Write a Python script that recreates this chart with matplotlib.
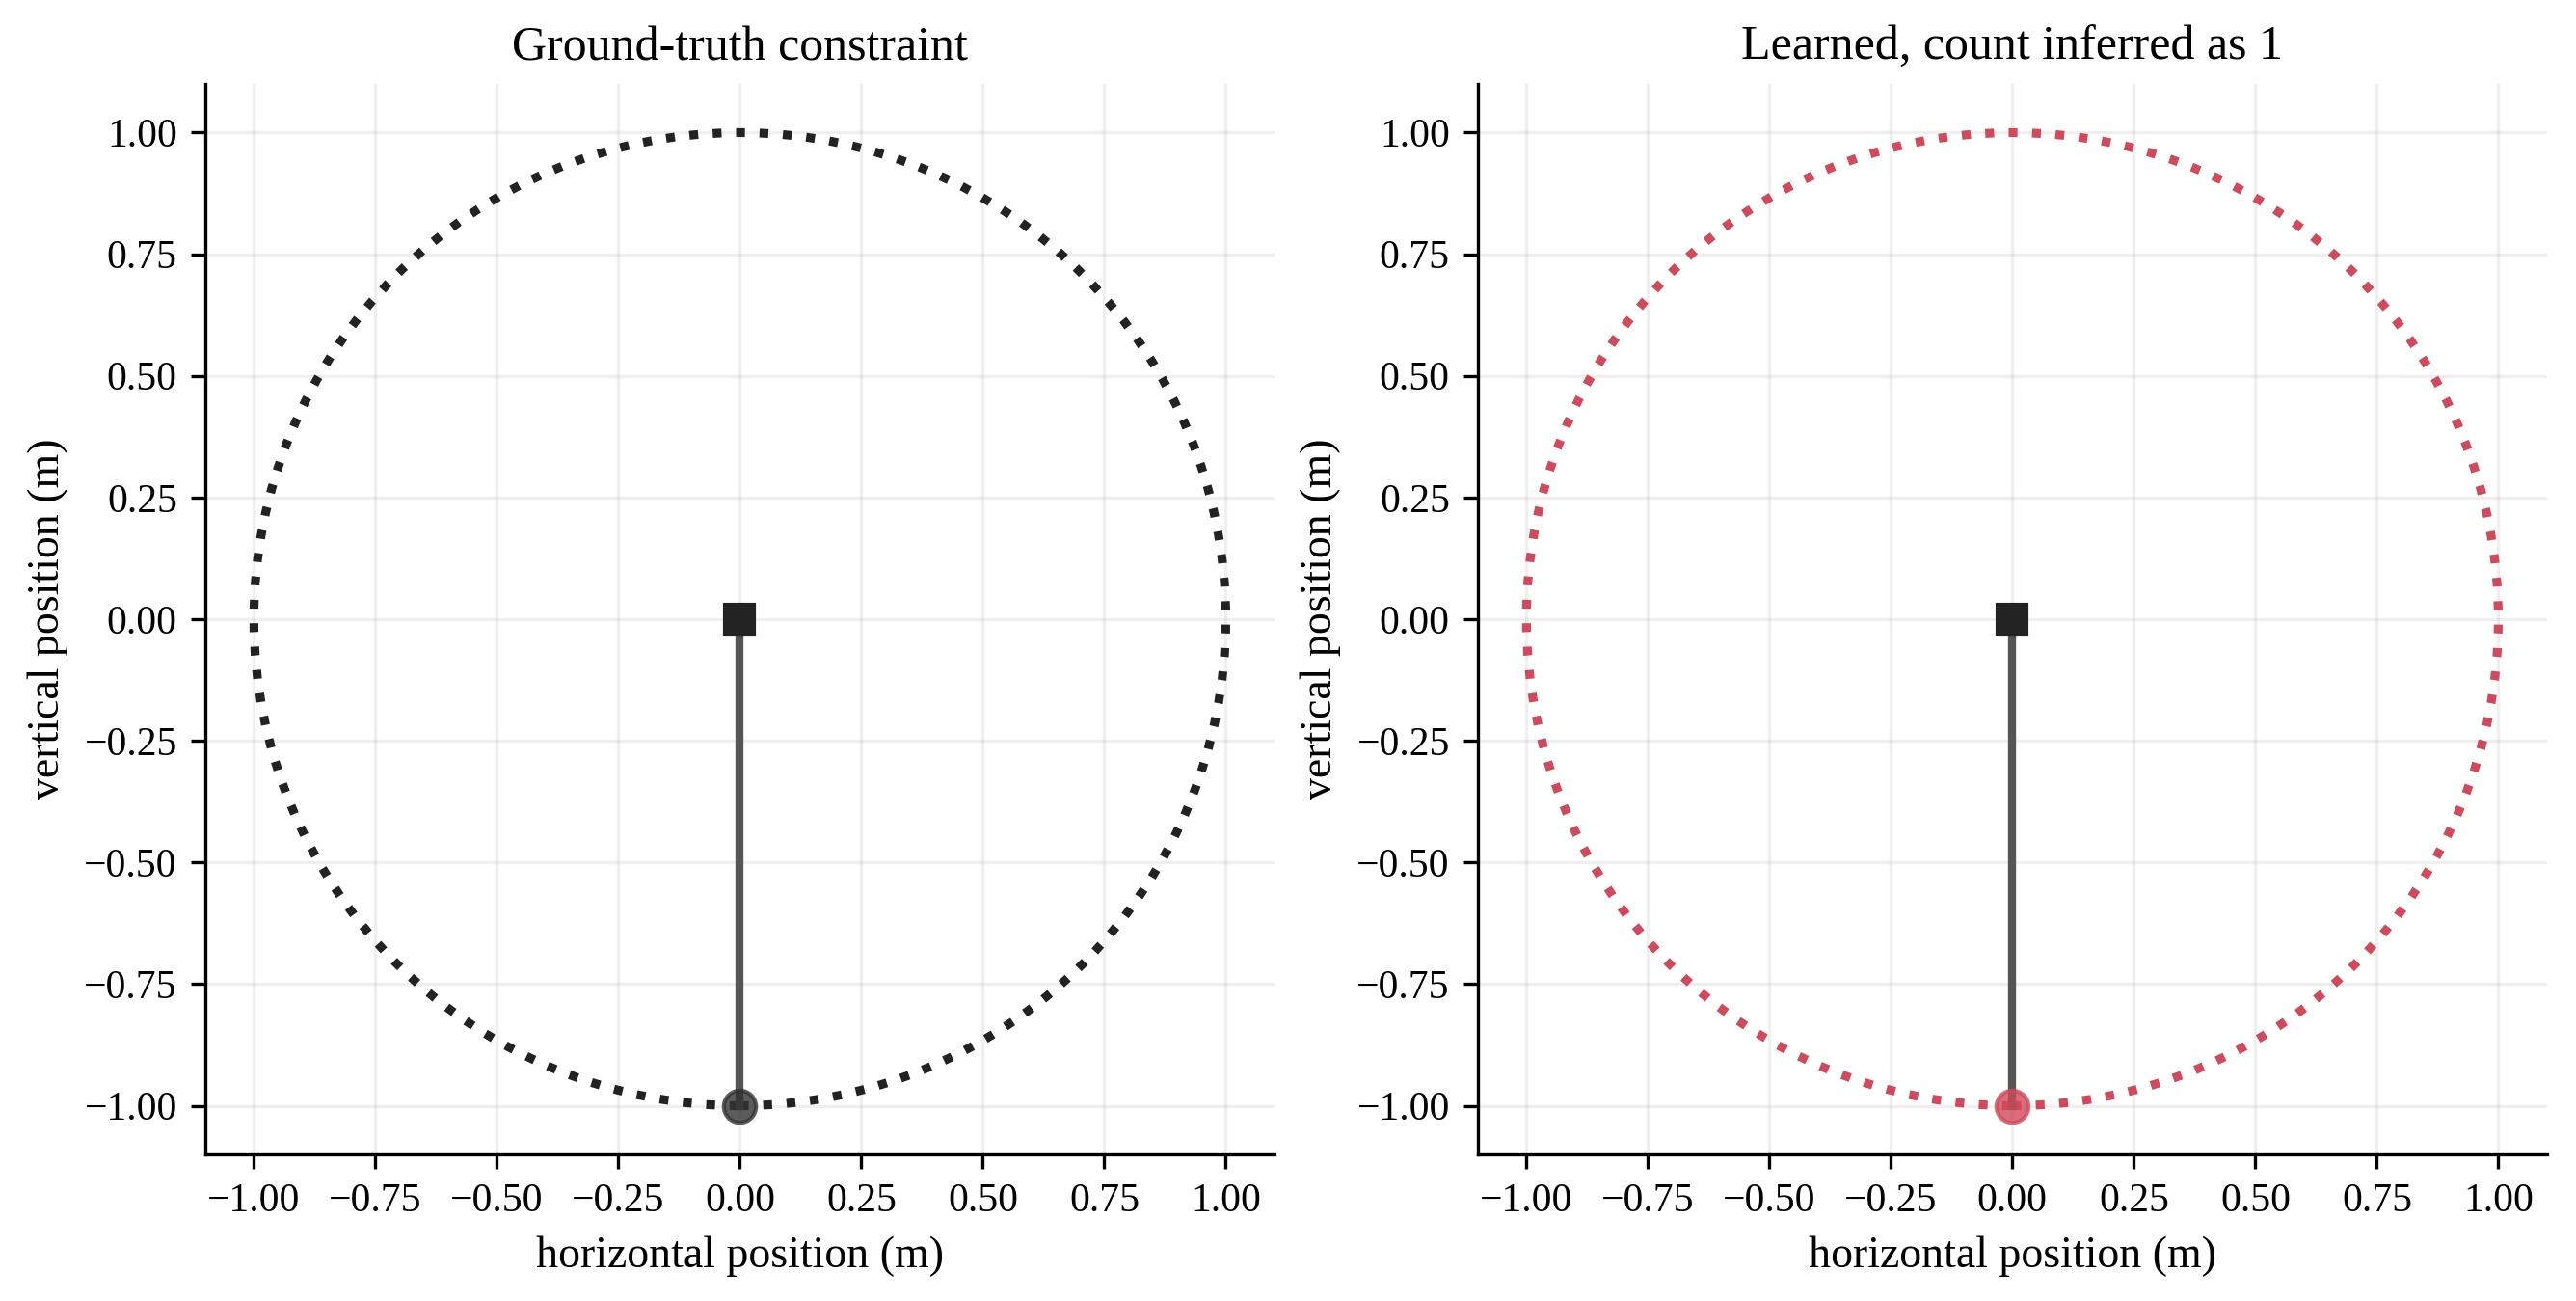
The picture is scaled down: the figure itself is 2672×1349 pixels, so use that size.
import matplotlib
matplotlib.use('Agg')
import matplotlib.pyplot as plt
from matplotlib.patches import Circle

plt.rcParams['font.family'] = ['Liberation Serif', 'DejaVu Serif']
plt.rcParams['axes.unicode_minus'] = True

# data
titles = ["Ground-truth constraint", "Learned, count inferred as 1"]
constraint_radius = [1.0, 1.0]
constraint_colors = ["#222222", "#d1495b"]
pivot = (0.0, 0.0)
bob = (0.0, -1.0)
ticks = [-1.00, -0.75, -0.50, -0.25, 0.00, 0.25, 0.50, 0.75, 1.00]
tick_labels = [f"{t:.2f}".replace("-", "\u2212") for t in ticks]

fig = plt.figure(figsize=(2672 / 300, 1349 / 300), dpi=300)
ax_left = fig.add_axes([0.0797, 0.1127, 0.4150, 0.8228])
ax_right = fig.add_axes([0.5737, 0.1127, 0.4150, 0.8228])

for ax, title, r, col in zip([ax_left, ax_right], titles, constraint_radius, constraint_colors):
    ax.grid(True, color="#b0b0b0", alpha=0.2, lw=0.8, zorder=0)
    ax.set_axisbelow(True)
    ring = Circle(pivot, r, fill=False, edgecolor=col, lw=2.2, linestyle=":", zorder=2)
    ax.add_patch(ring)
    ax.plot([pivot[0], bob[0]], [pivot[1], bob[1]], color="#555555", lw=2.0, zorder=3)
    ax.plot([pivot[0]], [pivot[1]], marker="s", ms=7, color="#222222", zorder=4)
    bob_col = "#333333" if col == "#222222" else col
    ax.plot([bob[0]], [bob[1]], marker="o", ms=8, color=bob_col, alpha=0.8, zorder=4)
    ax.set_xlim(-1.1, 1.1)
    ax.set_ylim(-1.1, 1.1)
    ax.set_xticks(ticks)
    ax.set_xticklabels(tick_labels)
    ax.set_yticks(ticks)
    ax.set_yticklabels(tick_labels)
    ax.tick_params(labelsize=10)
    ax.set_xlabel("horizontal position (m)", fontsize=11)
    ax.set_ylabel("vertical position (m)", fontsize=11)
    ax.set_title(title, fontsize=12)
    ax.spines["top"].set_visible(False)
    ax.spines["right"].set_visible(False)

fig.savefig("out.png", dpi=300)
